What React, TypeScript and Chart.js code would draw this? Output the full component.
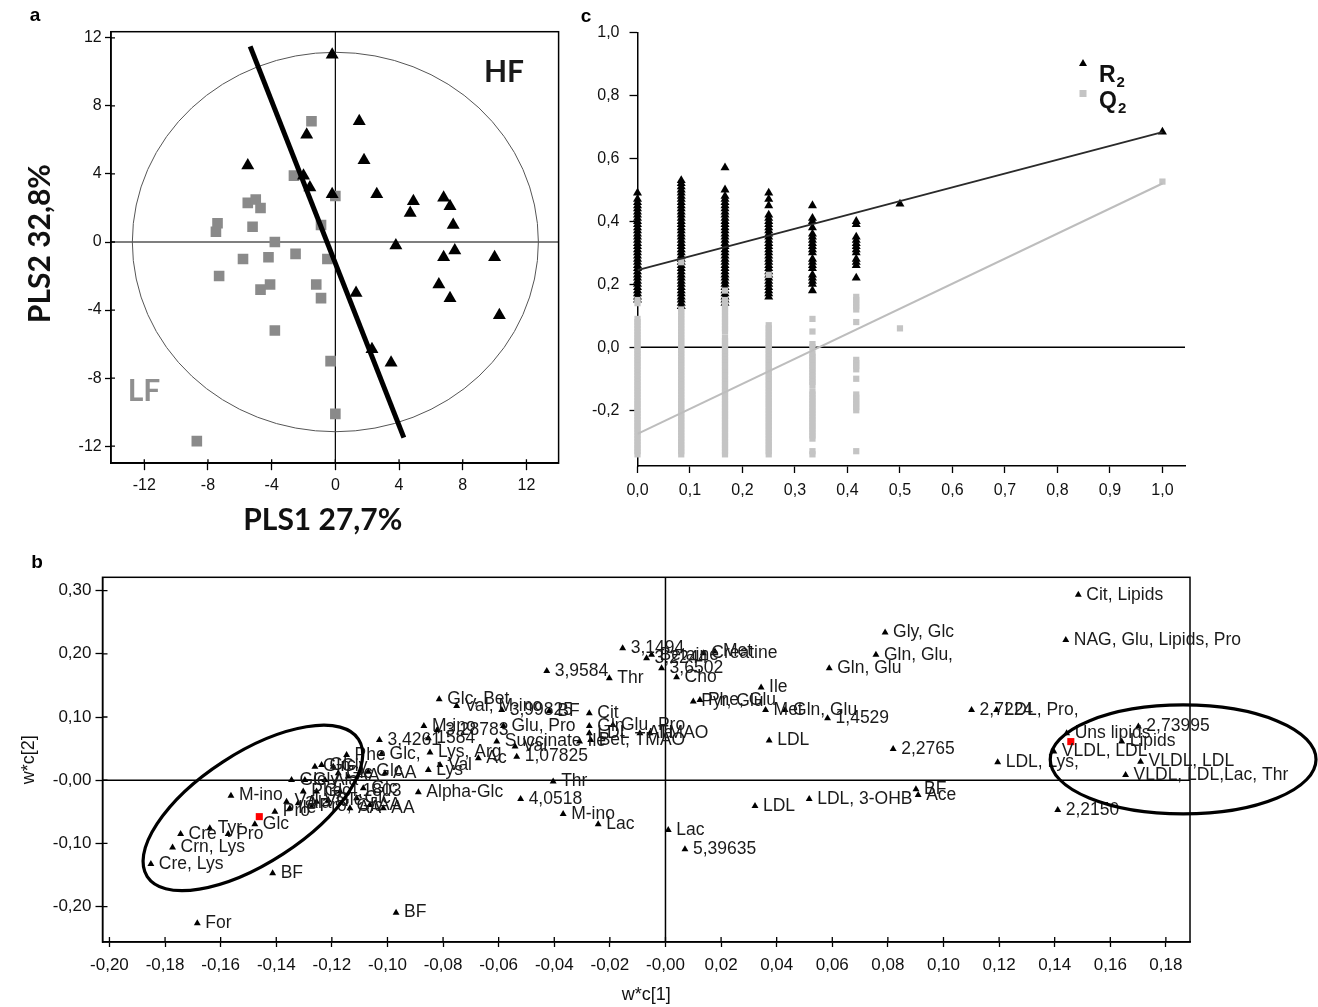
import React, { useEffect, useRef } from "react";
import { Chart, registerables } from "chart.js";

Chart.register(...registerables);

const ARIAL = "'Liberation Sans', Arimo, Arial, Helvetica, sans-serif";
const HEAVY = "Lato, 'Open Sans', 'Liberation Sans', sans-serif";

/* ---------------- panel a : PLS score plot ---------------- */
const aTickValues = [-12, -8, -4, 0, 4, 8, 12];
const aTickLabels = ["-12", "-8", "-4", "0", "4", "8", "12"];
const aHighFatX = [-0.2, 1.5, -1.8, -5.5, 1.8, -2.0, -1.6, -0.2, 2.6, 4.9, 4.7, 6.8, 7.2, 7.4, 3.8, 7.5, 6.8, 10.0, 6.5, 7.2, 10.3, 1.3, 2.3, 3.5];
const aHighFatY = [11.0, 7.1, 6.3, 4.5, 4.8, 3.9, 3.2, 2.8, 2.8, 2.4, 1.7, 2.6, 2.1, 1.0, -0.2, -0.5, -0.9, -0.9, -2.5, -3.3, -4.3, -3.0, -6.3, -7.1];
const aLowFatX = [-1.5, -2.6, 0.0, -5.5, -5.0, -4.7, -7.4, -7.5, -5.2, -3.8, -0.9, -5.8, -4.2, -2.5, -0.5, -7.3, -4.1, -4.7, -1.2, -0.9, -3.8, -0.3, 0.0, -8.7];
const aLowFatY = [7.1, 3.9, 2.7, 2.3, 2.5, 2.0, 1.1, 0.6, 0.9, 0.0, 1.0, -1.0, -0.9, -0.7, -1.0, -2.0, -2.5, -2.8, -2.5, -3.3, -5.2, -7.0, -10.1, -11.7];
const aSeparatorX = [-5.35, 4.3];
const aSeparatorY = [11.5, -11.5];
const aEllipseRadii = [12.75, 11.15];

/* ---------------- panel b : loadings w*c ---------------- */
const bXTickValues = [-0.2, -0.18, -0.16, -0.14, -0.12, -0.1, -0.08, -0.06, -0.04, -0.02, 0, 0.02, 0.04, 0.06, 0.08, 0.1, 0.12, 0.14, 0.16, 0.18];
const bXTickLabels = ["-0,20", "-0,18", "-0,16", "-0,14", "-0,12", "-0,10", "-0,08", "-0,06", "-0,04", "-0,02", "-0,00", "0,02", "0,04", "0,06", "0,08", "0,10", "0,12", "0,14", "0,16", "0,18"];
const bYTickValues = [-0.2, -0.1, 0, 0.1, 0.2, 0.3];
const bYTickLabels = ["-0,20", "-0,10", "-0,00", "0,10", "0,20", "0,30"];
const bLabels = [
  "Cit, Lipids", "NAG, Glu, Lipids, Pro", "2,7224", "LDL, Pro,", "2,2765", "LDL, Lys,", "Uns lipids", "VLDL, LDL", "2,73995", "Lipids",
  "VLDL, LDL", "VLDL, LDL,Lac, Thr", "2,2150", "BF", "Ace", "Gly, Glc", "Gln, Glu,", "Gln, Glu", "Ile", "Pyr, Glu",
  "Phe, Glu", "Met", "Gln, Glu", "1,4529", "LDL", "LDL", "LDL, 3-OHB", "Lac", "5,39635", "Cho",
  "3,6502", "3,1494", "3,2244", "Betaine", "Creatine", "Met", "Thr", "3,9584", "Cit", "Gln",
  "Glu, Pro", "LDL", "Ala", "TMAO", "Ile", "Bet, TMAO", "Glc, Bet", "Val, M-ino", "3,99825", "BF",
  "M-ino", "3,28783", "Glu, Pro", "3,4261", "1584", "Succinate", "Val", "1,07825", "Ac", "Lys, Arg",
  "Val", "Lys", "Thr", "Alpha-Glc", "4,0518", "M-ino", "Lac", "M-ino", "Glc", "Tyr",
  "Cre", "Pro", "Crn, Lys", "Cre, Lys", "BF", "For", "BF", "Phe", "Glc,", "Glc",
  "Gly", "Gln", "Glc", "Gly", "Ala", "Glc", "AA", "Glc", "AA", "Phe",
  "Glc", "4,1803", "Glc", "Val", "Ala", "Val", "Glc", "Glc", "Pro", "Ile",
  "Pro, Glc", "AA", "AA", "AA",
];
const bX = [
  0.1485, 0.144, 0.1101, 0.1191, 0.0819, 0.1195, 0.1443, 0.1397, 0.1701, 0.1641,
  0.1709, 0.1655, 0.1411, 0.0901, 0.0909, 0.079, 0.0757, 0.0589, 0.0344, 0.01,
  0.0124, 0.036, 0.043, 0.0583, 0.0373, 0.0322, 0.0517, 0.001, 0.007, 0.004,
  -0.0014, -0.0154, -0.0068, -0.005, 0.0136, 0.0178, -0.0202, -0.0427, -0.0274, -0.0274,
  -0.0189, -0.0274, -0.0092, -0.0056, -0.0309, -0.0269, -0.0814, -0.0751, -0.0589, -0.0418,
  -0.0869, -0.0821, -0.0583, -0.1029, -0.0853, -0.0607, -0.0541, -0.0535, -0.0673, -0.0847,
  -0.0811, -0.0853, -0.0404, -0.0889, -0.0521, -0.0368, -0.0242, -0.1563, -0.1477, -0.1639,
  -0.1744, -0.1573, -0.1773, -0.1851, -0.1413, -0.1684, -0.0969, -0.1147, -0.1021, -0.1237,
  -0.1195, -0.1261, -0.1345, -0.1297, -0.1225, -0.1177, -0.1141, -0.1069, -0.1009, -0.1303,
  -0.1255, -0.1171, -0.1087, -0.1363, -0.1321, -0.1255, -0.1213, -0.1111, -0.1405, -0.1351,
  -0.1273, -0.1135, -0.1063, -0.1015,
];
const bY = [
  0.2932, 0.222, 0.1112, 0.1112, 0.0495, 0.0285, 0.0744, 0.0453, 0.0848, 0.0611,
  0.0294, 0.0084, -0.047, -0.0142, -0.0233, 0.2335, 0.1983, 0.1772, 0.1465, 0.1244,
  0.1271, 0.1112, 0.1112, 0.0981, 0.0627, -0.0407, -0.0296, -0.0786, -0.1092, 0.163,
  0.1772, 0.2089, 0.193, 0.1983, 0.2009, 0.2035, 0.1614, 0.1729, 0.106, 0.0859,
  0.0875, 0.0744, 0.0744, 0.0744, 0.0611, 0.0638, 0.1282, 0.1176, 0.1112, 0.1097,
  0.0859, 0.0796, 0.0859, 0.0638, 0.0665, 0.0611, 0.0532, 0.0373, 0.0348, 0.0437,
  0.0242, 0.0163, -0.002, -0.019, -0.0296, -0.0533, -0.0696, -0.0244, -0.0696, -0.0759,
  -0.085, -0.085, -0.1066, -0.1324, -0.1472, -0.2263, -0.2095, 0.04, 0.0416, 0.0242,
  0.0215, 0.0215, 0.0005, 0.0005, 0.0005, 0.0111, 0.0057, 0.0136, 0.0111, -0.018,
  -0.018, -0.018, -0.0127, -0.0339, -0.0364, -0.0339, -0.0312, -0.0285, -0.0497, -0.0443,
  -0.0418, -0.0443, -0.0391, -0.0443,
];
const bHighlightX = [-0.1461, 0.1458];
const bHighlightY = [-0.0576, 0.0611];

/* ---------------- panel c : permutation test ---------------- */
const cXTickValues = [0, 0.1, 0.2, 0.3, 0.4, 0.5, 0.6, 0.7, 0.8, 0.9, 1];
const cXTickLabels = ["0,0", "0,1", "0,2", "0,3", "0,4", "0,5", "0,6", "0,7", "0,8", "0,9", "1,0"];
const cYTickValues = [-0.2, 0, 0.2, 0.4, 0.6, 0.8, 1];
const cYTickLabels = ["-0,2", "0,0", "0,2", "0,4", "0,6", "0,8", "1,0"];
const cPermFractions = [0, 0.0833, 0.1667, 0.25, 0.3333, 0.4167, 0.5, 1.0];
const cR2ByFraction = [
  [0.15, 0.16, 0.17, 0.18, 0.19, 0.2, 0.21, 0.22, 0.23, 0.24, 0.25, 0.26, 0.27, 0.28, 0.29, 0.3, 0.31, 0.32, 0.33, 0.34, 0.35, 0.36, 0.37, 0.38, 0.39, 0.4, 0.41, 0.42, 0.43, 0.44, 0.45, 0.46, 0.47, 0.49],
  [0.13, 0.14, 0.15, 0.16, 0.17, 0.18, 0.19, 0.2, 0.21, 0.22, 0.23, 0.24, 0.25, 0.26, 0.27, 0.28, 0.29, 0.3, 0.31, 0.32, 0.33, 0.34, 0.35, 0.36, 0.37, 0.38, 0.39, 0.4, 0.41, 0.42, 0.43, 0.44, 0.45, 0.46, 0.47, 0.48, 0.49, 0.5, 0.51, 0.52, 0.53],
  [0.14, 0.15, 0.16, 0.17, 0.18, 0.19, 0.2, 0.21, 0.22, 0.23, 0.24, 0.25, 0.26, 0.27, 0.28, 0.29, 0.3, 0.31, 0.32, 0.33, 0.34, 0.35, 0.36, 0.37, 0.38, 0.39, 0.4, 0.41, 0.42, 0.43, 0.44, 0.45, 0.46, 0.47, 0.48, 0.5, 0.57],
  [0.16, 0.17, 0.18, 0.19, 0.2, 0.21, 0.22, 0.23, 0.24, 0.25, 0.26, 0.27, 0.28, 0.29, 0.3, 0.31, 0.32, 0.33, 0.34, 0.35, 0.36, 0.37, 0.38, 0.39, 0.4, 0.41, 0.42, 0.45, 0.47, 0.49],
  [0.18, 0.2, 0.21, 0.22, 0.23, 0.25, 0.26, 0.27, 0.28, 0.3, 0.31, 0.32, 0.33, 0.34, 0.35, 0.36, 0.38, 0.4, 0.41, 0.45],
  [0.22, 0.26, 0.27, 0.28, 0.3, 0.31, 0.32, 0.33, 0.34, 0.35, 0.39, 0.4],
  [0.455],
  [0.684],
];
const cQ2ByFraction = [
  [-0.34, -0.33, -0.32, -0.31, -0.3, -0.29, -0.28, -0.27, -0.26, -0.25, -0.24, -0.23, -0.22, -0.21, -0.2, -0.19, -0.18, -0.17, -0.16, -0.15, -0.14, -0.13, -0.12, -0.11, -0.1, -0.09, -0.08, -0.07, -0.06, -0.05, -0.04, -0.03, -0.02, -0.01, 0, 0.01, 0.02, 0.03, 0.04, 0.05, 0.06, 0.07, 0.08, 0.09, 0.14, 0.15],
  [-0.34, -0.33, -0.32, -0.31, -0.3, -0.29, -0.28, -0.27, -0.26, -0.25, -0.24, -0.23, -0.22, -0.21, -0.2, -0.19, -0.18, -0.17, -0.16, -0.15, -0.14, -0.13, -0.12, -0.11, -0.1, -0.09, -0.08, -0.07, -0.06, -0.05, -0.04, -0.03, -0.02, -0.01, 0, 0.01, 0.02, 0.03, 0.04, 0.05, 0.06, 0.07, 0.08, 0.09, 0.1, 0.11, 0.12, 0.27],
  [-0.34, -0.33, -0.32, -0.31, -0.3, -0.29, -0.28, -0.27, -0.26, -0.25, -0.24, -0.23, -0.22, -0.21, -0.2, -0.19, -0.18, -0.17, -0.16, -0.15, -0.14, -0.13, -0.12, -0.11, -0.1, -0.09, -0.08, -0.07, -0.06, -0.05, -0.04, -0.03, -0.02, -0.01, 0, 0.01, 0.02, 0.03, 0.05, 0.06, 0.07, 0.08, 0.09, 0.1, 0.11, 0.12, 0.13, 0.14, 0.15, 0.18],
  [-0.34, -0.33, -0.32, -0.31, -0.3, -0.29, -0.28, -0.27, -0.26, -0.25, -0.24, -0.23, -0.22, -0.21, -0.2, -0.19, -0.18, -0.17, -0.16, -0.15, -0.14, -0.13, -0.12, -0.11, -0.1, -0.09, -0.08, -0.07, -0.06, -0.05, -0.04, -0.03, -0.02, -0.01, 0, 0.01, 0.02, 0.03, 0.04, 0.05, 0.06, 0.07, 0.23],
  [-0.34, -0.33, -0.29, -0.28, -0.27, -0.26, -0.25, -0.24, -0.23, -0.22, -0.21, -0.2, -0.19, -0.18, -0.17, -0.16, -0.15, -0.14, -0.12, -0.11, -0.1, -0.09, -0.08, -0.07, -0.06, -0.05, -0.04, -0.03, -0.02, 0, 0.01, 0.05, 0.09],
  [-0.33, -0.2, -0.19, -0.18, -0.17, -0.16, -0.15, -0.1, -0.07, -0.06, -0.05, -0.04, 0.08, 0.12, 0.13, 0.14, 0.15, 0.16],
  [0.06],
  [0.526],
];
const cFitX = [0, 1];
const cR2FitY = [0.245, 0.683];
const cQ2FitY = [-0.275, 0.52];

/* ---------------- helpers ---------------- */
function axis(values: number[], labels: string[], min: number, max: number, extent: number, horizontal: boolean, tickLength: number, padding: number, fontSize: number, title?: any) {
  return {
    type: "linear",
    min,
    max,
    afterBuildTicks: (s: any) => {
      s.ticks = values.map((v) => ({ value: v }));
    },
    afterFit: (s: any) => {
      if (horizontal) s.height = extent;
      else s.width = extent;
    },
    border: { display: true, color: "#000", width: 1.5 },
    grid: { display: true, drawOnChartArea: false, drawTicks: true, tickLength, tickColor: "#000", tickWidth: 1.3, color: "#000" },
    ticks: {
      autoSkip: false,
      maxRotation: 0,
      minRotation: 0,
      padding,
      color: "#111",
      font: { family: ARIAL, size: fontSize },
      callback: (v: number) => labels[values.indexOf(v)] ?? "",
    },
    title: title ?? { display: false },
  };
}

function pts(xs: number[], ys: number[]) {
  return xs.map((x, i) => ({ x, y: ys[i] }));
}

function drawText(ctx: CanvasRenderingContext2D, s: string, x: number, y: number, font: string, color: string, rot = 0, align: CanvasTextAlign = "center") {
  ctx.save();
  ctx.font = font;
  ctx.fillStyle = color;
  ctx.textAlign = align;
  ctx.textBaseline = "middle";
  ctx.translate(x, y);
  if (rot) ctx.rotate(rot);
  ctx.fillText(s, 0, 0);
  ctx.restore();
}

function innerTicks(chart: any, len: number) {
  const { ctx, chartArea: ca, scales } = chart;
  ctx.save();
  ctx.strokeStyle = "#000";
  ctx.lineWidth = 1.3;
  ctx.beginPath();
  scales.x.ticks.forEach((t: any) => {
    const px = scales.x.getPixelForValue(t.value);
    ctx.moveTo(px, ca.bottom);
    ctx.lineTo(px, ca.bottom - len);
  });
  scales.y.ticks.forEach((t: any) => {
    const py = scales.y.getPixelForValue(t.value);
    ctx.moveTo(ca.left, py);
    ctx.lineTo(ca.left + len, py);
  });
  ctx.stroke();
  ctx.restore();
}

function boxAndZeroLines(chart: any, zeroWidth: number) {
  const { ctx, chartArea: ca, scales } = chart;
  ctx.save();
  ctx.strokeStyle = "#000";
  ctx.lineWidth = 1.5;
  ctx.strokeRect(ca.left, ca.top, ca.right - ca.left, ca.bottom - ca.top);
  const x0 = scales.x.getPixelForValue(0);
  const y0 = scales.y.getPixelForValue(0);
  ctx.lineWidth = zeroWidth;
  ctx.beginPath();
  ctx.moveTo(ca.left, y0);
  ctx.lineTo(ca.right, y0);
  ctx.moveTo(x0, ca.top);
  ctx.lineTo(x0, ca.bottom);
  ctx.stroke();
  ctx.restore();
}

const baseOptions = {
  responsive: false,
  animation: false,
  events: [],
  plugins: { legend: { display: false }, tooltip: { enabled: false } },
};

/* ---------------- chart configs ---------------- */
function makePanelA() {
  const plugin = {
    id: "panelA",
    beforeDatasetsDraw(chart: any) {
      boxAndZeroLines(chart, 1.2);
      innerTicks(chart, 4);
      const { ctx, scales } = chart;
      const x0 = scales.x.getPixelForValue(0);
      const y0 = scales.y.getPixelForValue(0);
      const rx = Math.abs(scales.x.getPixelForValue(aEllipseRadii[0]) - x0);
      const ry = Math.abs(scales.y.getPixelForValue(aEllipseRadii[1]) - y0);
      ctx.save();
      ctx.strokeStyle = "#555";
      ctx.lineWidth = 1;
      ctx.beginPath();
      ctx.ellipse(x0, y0, rx, ry, 0, 0, Math.PI * 2);
      ctx.stroke();
      ctx.restore();
    },
    afterDraw(chart: any) {
      const ctx = chart.ctx;
      drawText(ctx, "a", 35, 15.5, `bold 19px ${ARIAL}`, "#000");
      drawText(ctx, "HF", 504, 72.4, `bold 30px ${HEAVY}`, "#1a1a1a");
      drawText(ctx, "LF", 144, 391.7, `bold 30px ${HEAVY}`, "#8f8f8f");
      drawText(ctx, "PLS1 27,7%", 322.8, 520.8, `bold 30px ${HEAVY}`, "#111");
      drawText(ctx, "PLS2 32,8%", 40.7, 243.6, `bold 30px ${HEAVY}`, "#111", -Math.PI / 2);
    },
  };
  return {
    type: "scatter",
    data: {
      datasets: [
        { data: pts(aSeparatorX, aSeparatorY), showLine: true, borderColor: "#000", borderWidth: 5, pointRadius: 0, order: 0 },
        { data: pts(aHighFatX, aHighFatY), pointStyle: "triangle", pointRadius: 7.5, backgroundColor: "#000", borderColor: "#000", borderWidth: 0, order: 1 },
        { data: pts(aLowFatX, aLowFatY), pointStyle: "rect", pointRadius: 7.5, backgroundColor: "#8a8a8a", borderColor: "#8a8a8a", borderWidth: 0, order: 2 },
      ],
    },
    options: {
      ...baseOptions,
      layout: { padding: { top: 31.7, right: 21.4, left: 0, bottom: 0 } },
      scales: {
        x: axis(aTickValues, aTickLabels, -14.09, 14.02, 81.8, true, 7, 5.7, 16),
        y: axis(aTickValues, aTickLabels, -13.0, 12.36, 111, false, 6, 3.3, 16),
      },
    },
    plugins: [plugin],
  };
}

function makePanelB() {
  const plugin = {
    id: "panelB",
    beforeDatasetsDraw(chart: any) {
      boxAndZeroLines(chart, 1.5);
      innerTicks(chart, 5);
    },
    afterDatasetsDraw(chart: any) {
      const { ctx, scales } = chart;
      ctx.save();
      ctx.font = `17.5px ${ARIAL}`;
      ctx.fillStyle = "#1a1a1a";
      ctx.textAlign = "left";
      ctx.textBaseline = "middle";
      bLabels.forEach((s, i) => {
        ctx.fillText(s, scales.x.getPixelForValue(bX[i]) + 8, scales.y.getPixelForValue(bY[i]));
      });
      ctx.restore();
    },
    afterDraw(chart: any) {
      const { ctx, scales } = chart;
      ctx.save();
      ctx.strokeStyle = "#000";
      ctx.lineWidth = 3.2;
      // group ellipses
      const rcx = scales.x.getPixelForValue(0.1862);
      const rcy = scales.y.getPixelForValue(0.0329);
      const rrx = Math.abs(scales.x.getPixelForValue(0.1862 + 0.0478) - rcx);
      const rry = Math.abs(scales.y.getPixelForValue(0.0329 + 0.0862) - rcy);
      ctx.beginPath();
      ctx.ellipse(rcx, rcy, rrx, rry, 0, 0, Math.PI * 2);
      ctx.stroke();
      const lcx = scales.x.getPixelForValue(-0.1484);
      const lcy = scales.y.getPixelForValue(-0.0438);
      ctx.beginPath();
      ctx.ellipse(lcx, lcy, 126, 55, (-33 * Math.PI) / 180, 0, Math.PI * 2);
      ctx.stroke();
      ctx.restore();
      drawText(ctx, "b", 37, 18, `bold 19px ${ARIAL}`, "#000");
    },
  };
  return {
    type: "scatter",
    data: {
      datasets: [
        { data: pts(bHighlightX, bHighlightY), pointStyle: "rect", pointRadius: 5, backgroundColor: "#ff0000", borderWidth: 0, order: 0, clip: false },
        { data: pts(bX, bY), pointStyle: "triangle", pointRadius: 4, backgroundColor: "#000", borderColor: "#000", borderWidth: 0, order: 1, clip: false },
      ],
    },
    options: {
      ...baseOptions,
      layout: { padding: { top: 32.3, right: 128, left: 0, bottom: 0 } },
      scales: {
        x: axis(bXTickValues, bXTickLabels, -0.2025, 0.18867, 65, true, 5, 8, 17, {
          display: true,
          text: "w*c[1]",
          color: "#111",
          font: { family: ARIAL, size: 18 },
          padding: { top: 0, bottom: 1 },
        }),
        y: axis(bYTickValues, bYTickLabels, -0.2559, 0.321, 102.5, false, 7, 4, 17, {
          display: true,
          text: "w*c[2]",
          color: "#111",
          font: { family: ARIAL, size: 18 },
          padding: { top: 18, bottom: 0 },
        }),
      },
    },
    plugins: [plugin],
  };
}

function makePanelC() {
  const r2Points: { x: number; y: number }[] = [];
  const q2Points: { x: number; y: number }[] = [];
  cPermFractions.forEach((fx, i) => {
    cR2ByFraction[i].forEach((v) => r2Points.push({ x: fx, y: v }));
    cQ2ByFraction[i].forEach((v) => q2Points.push({ x: fx, y: v }));
  });
  const plugin = {
    id: "panelC",
    beforeDatasetsDraw(chart: any) {
      const { ctx, chartArea: ca, scales } = chart;
      const y0 = scales.y.getPixelForValue(0);
      ctx.save();
      ctx.strokeStyle = "#000";
      ctx.lineWidth = 1.6;
      ctx.beginPath();
      ctx.moveTo(ca.left, y0);
      ctx.lineTo(ca.right, y0);
      ctx.stroke();
      ctx.restore();
    },
    afterDraw(chart: any) {
      const ctx = chart.ctx;
      drawText(ctx, "c", 6, 16.7, `bold 19px ${ARIAL}`, "#000");
      ctx.save();
      // R2 marker
      ctx.fillStyle = "#000";
      ctx.beginPath();
      ctx.moveTo(503, 59);
      ctx.lineTo(507, 66);
      ctx.lineTo(499, 66);
      ctx.closePath();
      ctx.fill();
      // Q2 marker
      ctx.fillStyle = "#c4c4c4";
      ctx.fillRect(499.5, 90, 7, 7);
      ctx.restore();
      drawText(ctx, "R", 519, 75.5, `bold 23px ${ARIAL}`, "#111", 0, "left");
      drawText(ctx, "2", 536.5, 83, `bold 15px ${ARIAL}`, "#111", 0, "left");
      drawText(ctx, "Q", 519, 101.5, `bold 23px ${ARIAL}`, "#111", 0, "left");
      drawText(ctx, "2", 538, 109, `bold 15px ${ARIAL}`, "#111", 0, "left");
    },
  };
  return {
    type: "scatter",
    data: {
      datasets: [
        { data: pts(cFitX, cR2FitY), showLine: true, borderColor: "#2a2a2a", borderWidth: 2, pointRadius: 0, order: 0 },
        { data: pts(cFitX, cQ2FitY), showLine: true, borderColor: "#bdbdbd", borderWidth: 2, pointRadius: 0, order: 0 },
        { data: q2Points, pointStyle: "rect", pointRadius: 4.4, backgroundColor: "#c4c4c4", borderWidth: 0, order: 1, clip: false },
        { data: r2Points, pointStyle: "triangle", pointRadius: 5.2, backgroundColor: "#000", borderColor: "#000", borderWidth: 0, order: 2, clip: false },
      ],
    },
    options: {
      ...baseOptions,
      layout: { padding: { top: 32.3, right: 133, left: 0, bottom: 0 } },
      scales: {
        x: axis(cXTickValues, cXTickLabels, 0, 1.043, 44, true, 7, 8, 16),
        y: axis(cYTickValues, cYTickLabels, -0.377, 1.0, 57.5, false, 8, 10, 16),
      },
    },
    plugins: [plugin],
  };
}

function ChartCanvas({ left, top, width, height, make }: { left: number; top: number; width: number; height: number; make: () => any }) {
  const ref = useRef<HTMLCanvasElement>(null);
  useEffect(() => {
    const chart = new Chart(ref.current as HTMLCanvasElement, make());
    return () => chart.destroy();
  }, []);
  return <canvas ref={ref} width={width} height={height} style={{ position: "absolute", left, top, width, height }} />;
}

export default function App() {
  return (
    <div style={{ position: "absolute", left: 0, top: 0, width: 1318, height: 1007, background: "#fff", overflow: "hidden" }}>
      <ChartCanvas left={0} top={0} width={580} height={545} make={makePanelA} />
      <ChartCanvas left={580} top={0} width={738} height={510} make={makePanelC} />
      <ChartCanvas left={0} top={545} width={1318} height={462} make={makePanelB} />
    </div>
  );
}
